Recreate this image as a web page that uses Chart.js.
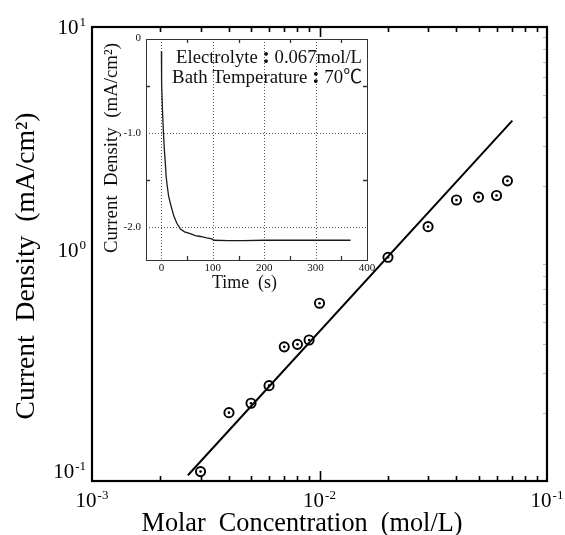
<!DOCTYPE html>
<html><head><meta charset="utf-8">
<script src="https://cdn.jsdelivr.net/npm/chart.js@4.4.1/dist/chart.umd.min.js"></script>
<style>
html,body{margin:0;padding:0;background:#fff;}
#wrap{position:relative;width:565px;height:535px;overflow:hidden;}
#wrap canvas{position:absolute;left:0;top:0;}
#inset{pointer-events:none;}
</style></head><body>
<div id="wrap"><canvas id="main" width="565" height="535"></canvas><canvas id="inset" width="565" height="535"></canvas></div>
<script>
// ---- main chart data ----
const concentration = [0.003, 0.004, 0.005, 0.006, 0.007, 0.008, 0.009, 0.01, 0.02, 0.03, 0.04, 0.05, 0.06, 0.067];
const currentDensity = [0.11, 0.20, 0.22, 0.263, 0.39, 0.40, 0.418, 0.607, 0.967, 1.32, 1.73, 1.78, 1.81, 2.10];
const fitConc = [0.00264, 0.0704];
const fitDensity = [0.106, 3.87];
const xTickValues = [0.001, 0.01, 0.1];
const xTickExponents = ['-3', '-2', '-1'];
const yTickValues = [0.1, 1, 10];
const yTickExponents = ['-1', '0', '1'];
const xTitle = 'Molar  Concentration  (mol/L)';
const yTitle = 'Current  Density  (mA/cm\u00B2)';

// ---- inset data ----
const timeS = [0, 0.4, 2, 4, 6, 7.6, 9, 11, 14, 18, 24, 30, 37, 45, 56, 66, 76, 88, 98, 102, 130, 160, 200, 240, 280, 320, 368];
const insetDensity = [-0.13, -0.47, -0.75, -1.0, -1.2, -1.32, -1.45, -1.55, -1.67, -1.76, -1.88, -1.96, -2.02, -2.05, -2.07, -2.09, -2.10, -2.115, -2.125, -2.14, -2.145, -2.145, -2.14, -2.14, -2.14, -2.14, -2.14];
const insetXTicks = [0, 100, 200, 300, 400];
const insetXTickLabels = ['0', '100', '200', '300', '400'];
const insetXMinor = [50, 150, 250, 350];
const insetYTicks = [0, -1, -2];
const insetYTickLabels = ['0', '-1.0', '-2.0'];
const insetYMinor = [-0.5, -1.5];
const insetXTitle = 'Time  (s)';
const insetYTitle = 'Current  Density  (mA/cm\u00B2)';
const noteLines = [['Electrolyte', ':', '0.067mol/L'], ['Bath Temperature', ':', '70\u2103']];

const FAM = '"Liberation Serif", "Noto Sans CJK JP", serif';

function fitSize(ctx, text, width, base) {
  ctx.font = base + 'px ' + FAM;
  const m = ctx.measureText(text).width;
  return base * width / m;
}
function drawPow(ctx, exp, x, y, align, size) {
  const supSize = size * 0.62;
  ctx.font = size + 'px ' + FAM;
  const w1 = ctx.measureText('10').width;
  ctx.font = supSize + 'px ' + FAM;
  const w2 = ctx.measureText(exp).width;
  const total = w1 + w2 + 1;
  let x0 = x;
  if (align === 'center') x0 = x - total / 2;
  else if (align === 'right') x0 = x - total;
  ctx.textAlign = 'left';
  ctx.textBaseline = 'alphabetic';
  ctx.font = size + 'px ' + FAM;
  ctx.fillText('10', x0, y);
  ctx.font = supSize + 'px ' + FAM;
  ctx.fillText(exp, x0 + w1 + 1, y - size * 0.36);
}
// "label : value", right-aligned at xr, fitted to the given width, bold colon
function drawNote(ctx, parts, xr, y, width) {
  const base = 16;
  function widths(sz) {
    ctx.font = sz + 'px ' + FAM;
    const w0 = ctx.measureText(parts[0]).width;
    const w2 = ctx.measureText(parts[2]).width;
    const wc = sz * 0.9;
    return [w0, wc, w2];
  }
  let w = widths(base);
  const size = base * width / (w[0] + w[1] + w[2]);
  w = widths(size);
  const x = xr - (w[0] + w[1] + w[2]);
  ctx.textBaseline = 'alphabetic';
  ctx.textAlign = 'left';
  ctx.font = size + 'px ' + FAM;
  ctx.fillText(parts[0], x, y);
  ctx.fillText(parts[2], x + w[0] + w[1], y);
  ctx.textAlign = 'center';
  ctx.font = 'bold ' + (size * 1.25) + 'px "Liberation Serif", serif';
  ctx.fillText(parts[1], x + w[0] + w[1] / 2, y);
}

const mainDecor = {
  id: 'mainDecor',
  afterDraw(chart) {
    const ctx = chart.ctx, a = chart.chartArea;
    const xs = chart.scales.x, ys = chart.scales.y;
    ctx.save();
    ctx.fillStyle = '#000';
    ctx.strokeStyle = '#000';
    ctx.lineWidth = 1.6;
    for (let e = -3; e < -1; e++) {
      for (let k = 1; k <= 9; k++) {
        const v = k * Math.pow(10, e);
        if (v <= xs.min || v >= xs.max) continue;
        const px = Math.round(xs.getPixelForValue(v)) + 0.5;
        const len = (k === 1) ? 10 : 5;
        ctx.beginPath();
        ctx.moveTo(px, a.bottom); ctx.lineTo(px, a.bottom - len);
        ctx.moveTo(px, a.top); ctx.lineTo(px, a.top + len);
        ctx.stroke();
      }
    }
    ctx.strokeStyle = '#bbb';
    ctx.lineWidth = 1;
    for (let e = -1; e < 1; e++) {
      for (let k = 2; k <= 9; k++) {
        const py = Math.round(ys.getPixelForValue(k * Math.pow(10, e))) + 0.5;
        ctx.beginPath(); ctx.moveTo(a.right, py); ctx.lineTo(a.right - 4, py); ctx.stroke();
      }
    }
    ctx.strokeStyle = '#000';
    ctx.lineWidth = 2.2;
    ctx.strokeRect(a.left, a.top, a.right - a.left, a.bottom - a.top);
    const tsz = 21;
    xTickValues.forEach((v, i) => {
      drawPow(ctx, xTickExponents[i], xs.getPixelForValue(v), a.bottom + 26, 'center', tsz);
    });
    yTickValues.forEach((v, i) => {
      const shift = i === 0 ? -10 : (i === 1 ? -4 : 0);
      drawPow(ctx, yTickExponents[i], a.left - 6, ys.getPixelForValue(v) + 7 + shift, 'right', tsz);
    });
    let s = fitSize(ctx, xTitle, 321, 22);
    ctx.font = s + 'px ' + FAM;
    ctx.textAlign = 'center';
    ctx.textBaseline = 'alphabetic';
    ctx.fillText(xTitle, 302, 531);
    s = fitSize(ctx, yTitle, 307, 22);
    ctx.save();
    ctx.translate(34, 266);
    ctx.rotate(-Math.PI / 2);
    ctx.font = s + 'px ' + FAM;
    ctx.fillText(yTitle, 0, 0);
    ctx.restore();
    ctx.restore();
  }
};

const pts = concentration.map((x, i) => ({ x: x, y: currentDensity[i] }));
new Chart(document.getElementById('main'), {
  type: 'scatter',
  data: {
    datasets: [
      { data: pts, pointRadius: 1.3, pointBackgroundColor: '#000', pointBorderWidth: 0, showLine: false },
      { data: pts, pointRadius: 4.6, pointBorderColor: '#000', pointBorderWidth: 1.9, pointBackgroundColor: 'rgba(0,0,0,0)', showLine: false },
      { data: fitConc.map((x, i) => ({ x: x, y: fitDensity[i] })), showLine: true, borderColor: '#000', borderWidth: 2, pointRadius: 0 }
    ]
  },
  options: {
    responsive: false, animation: false, devicePixelRatio: 1,
    layout: { padding: { left: 92, right: 18, top: 27, bottom: 54 } },
    plugins: { legend: { display: false }, tooltip: { enabled: false } },
    scales: {
      x: { type: 'logarithmic', min: 0.001, max: 0.1, display: false },
      y: { type: 'logarithmic', min: 0.1, max: 10, display: false }
    }
  },
  plugins: [mainDecor]
});

const insetDecor = {
  id: 'insetDecor',
  beforeDatasetsDraw(chart) {
    const ctx = chart.ctx, a = chart.chartArea;
    const xs = chart.scales.x, ys = chart.scales.y;
    ctx.save();
    ctx.fillStyle = '#fff';
    ctx.fillRect(a.left, a.top, a.right - a.left, a.bottom - a.top);
    ctx.strokeStyle = '#555';
    ctx.lineWidth = 1;
    ctx.setLineDash([1, 2]);
    insetXTicks.forEach(v => {
      if (v >= xs.max) return;
      const px = Math.round(xs.getPixelForValue(v)) + 0.5;
      ctx.beginPath(); ctx.moveTo(px, a.top); ctx.lineTo(px, a.bottom); ctx.stroke();
    });
    insetYTicks.forEach(v => {
      if (v >= ys.max) return;
      const py = Math.round(ys.getPixelForValue(v)) + 0.5;
      ctx.beginPath(); ctx.moveTo(a.left, py); ctx.lineTo(a.right, py); ctx.stroke();
    });
    ctx.restore();
  },
  afterDraw(chart) {
    const ctx = chart.ctx, a = chart.chartArea;
    const xs = chart.scales.x, ys = chart.scales.y;
    ctx.save();
    ctx.strokeStyle = '#333';
    ctx.lineWidth = 1;
    ctx.strokeRect(Math.round(a.left) + 0.5, Math.round(a.top) + 0.5, Math.round(a.right - a.left), Math.round(a.bottom - a.top));
    ctx.lineWidth = 1.3;
    insetXMinor.forEach(v => {
      const px = Math.round(xs.getPixelForValue(v)) + 0.5;
      ctx.beginPath();
      ctx.moveTo(px, a.bottom); ctx.lineTo(px, a.bottom - 4);
      ctx.moveTo(px, a.top); ctx.lineTo(px, a.top + 4);
      ctx.stroke();
    });
    insetYMinor.forEach(v => {
      const py = Math.round(ys.getPixelForValue(v)) + 0.5;
      ctx.beginPath();
      ctx.moveTo(a.left, py); ctx.lineTo(a.left + 4, py);
      ctx.moveTo(a.right, py); ctx.lineTo(a.right - 4, py);
      ctx.stroke();
    });
    ctx.fillStyle = '#111';
    ctx.font = '11px ' + FAM;
    ctx.textAlign = 'center';
    ctx.textBaseline = 'middle';
    insetXTicks.forEach((v, i) => ctx.fillText(insetXTickLabels[i], xs.getPixelForValue(v), a.bottom + 8));
    ctx.textAlign = 'right';
    insetYTicks.forEach((v, i) => ctx.fillText(insetYTickLabels[i], a.left - 5, ys.getPixelForValue(v) - (i === 0 ? 1 : 0)));
    ctx.textBaseline = 'alphabetic';
    ctx.textAlign = 'center';
    let s = fitSize(ctx, insetXTitle, 65, 17);
    ctx.font = s + 'px ' + FAM;
    ctx.fillText(insetXTitle, 244.5, 288);
    s = fitSize(ctx, insetYTitle, 210, 16);
    ctx.save();
    ctx.translate(117, 148);
    ctx.rotate(-Math.PI / 2);
    ctx.font = s + 'px ' + FAM;
    ctx.fillText(insetYTitle, 0, 0);
    ctx.restore();
    drawNote(ctx, noteLines[0], 362, 63, 186);
    drawNote(ctx, noteLines[1], 362, 83, 190);
    ctx.restore();
  }
};

new Chart(document.getElementById('inset'), {
  type: 'line',
  data: {
    datasets: [{
      data: timeS.map((t, i) => ({ x: t, y: insetDensity[i] })),
      borderColor: '#1a1a1a', borderWidth: 1.3, pointRadius: 0, tension: 0, fill: false
    }]
  },
  options: {
    responsive: false, animation: false, devicePixelRatio: 1,
    layout: { padding: { left: 146, right: 198, top: 39, bottom: 275 } },
    plugins: { legend: { display: false }, tooltip: { enabled: false } },
    scales: {
      x: { type: 'linear', min: -30, max: 400, display: false },
      y: { type: 'linear', min: -2.35, max: 0, display: false }
    }
  },
  plugins: [insetDecor]
});
</script>
</body></html>
